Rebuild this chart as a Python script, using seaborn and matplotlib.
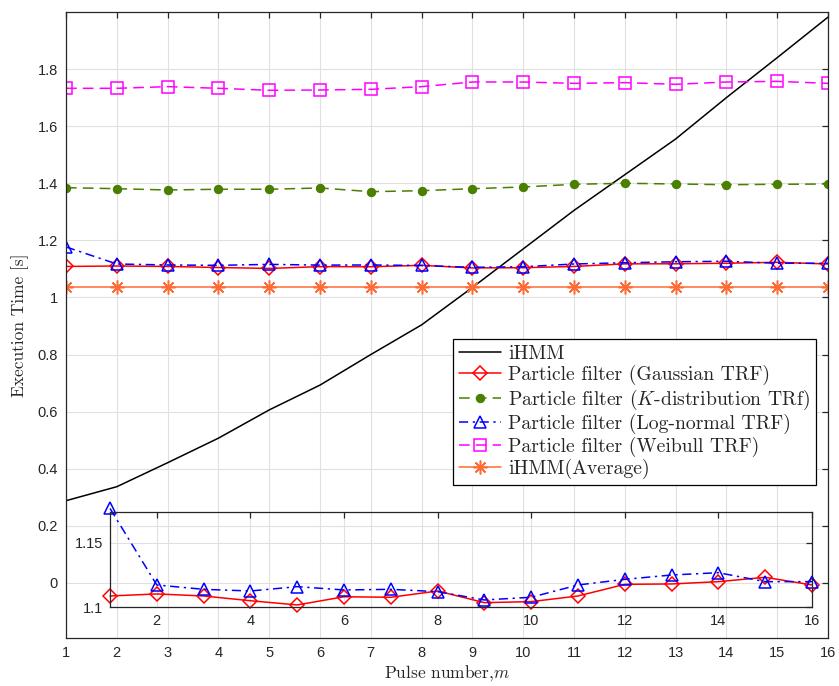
import matplotlib
matplotlib.use("Agg")
import matplotlib.pyplot as plt
import pandas as pd
import seaborn as sns

# Execution time per pulse for each tracker
pulses = list(range(1, 17))
ihmm = [0.288, 0.337, 0.421, 0.507, 0.606, 0.693, 0.800, 0.904,
        1.035, 1.170, 1.305, 1.430, 1.555, 1.700, 1.840, 1.982]
pf_gaussian = [1.1086, 1.1102, 1.1086, 1.1049, 1.1016, 1.1080, 1.1076, 1.1125,
               1.1034, 1.1042, 1.1086, 1.1177, 1.1180, 1.1198, 1.1232, 1.1172]
pf_kdist = [1.3846, 1.3810, 1.3765, 1.3790, 1.3790, 1.3835, 1.3706, 1.3740,
            1.3810, 1.3870, 1.3964, 1.4000, 1.3975, 1.3950, 1.3964, 1.3975]
pf_lognormal = [1.1770, 1.1172, 1.1138, 1.1125, 1.1159, 1.1133, 1.1138, 1.1120,
                1.1055, 1.1076, 1.1172, 1.1216, 1.1250, 1.1268, 1.1198, 1.1198]
pf_weibull = [1.7327, 1.7327, 1.7385, 1.7327, 1.7257, 1.7268, 1.7290, 1.7385,
              1.7548, 1.7548, 1.7500, 1.7525, 1.7467, 1.7548, 1.7570, 1.7500]
ihmm_average = [1.036, 1.036, 1.036, 1.036, 1.036, 1.036, 1.036, 1.036,
                1.036, 1.036, 1.036, 1.036, 1.036, 1.036, 1.036, 1.036]

labels = [
    "iHMM",
    "Particle filter (Gaussian TRF)",
    "Particle filter ($K$-distribution TRf)",
    "Particle filter (Log-normal TRF)",
    "Particle filter (Weibull TRF)",
    "iHMM(Average)",
]
main_yticks = [0, 0.2, 0.4, 0.6, 0.8, 1.0, 1.2, 1.4, 1.6, 1.8]
main_yticklabels = ["0", "0.2", "0.4", "0.6", "0.8", "1", "1.2", "1.4", "1.6", "1.8"]
inset_xticks = [2, 4, 6, 8, 10, 12, 14, 16]
inset_yticks = [1.1, 1.15]
inset_yticklabels = ["1.1", "1.15"]

df = pd.DataFrame({
    "m": pulses, "ihmm": ihmm, "gauss": pf_gaussian, "kdist": pf_kdist,
    "logn": pf_lognormal, "weib": pf_weibull, "avg": ihmm_average,
})

sns.set_theme(style="whitegrid")
plt.rcParams.update({
    "font.family": ["Liberation Sans", "DejaVu Sans"],
    "mathtext.fontset": "cm",
    "axes.unicode_minus": False,
    "axes.edgecolor": "#262626",
    "axes.linewidth": 0.9,
    "grid.color": "#E0E0E0",
    "grid.linewidth": 0.8,
    "xtick.direction": "in",
    "ytick.direction": "in",
    "xtick.color": "#262626",
    "ytick.color": "#262626",
    "xtick.labelcolor": "#262626",
    "ytick.labelcolor": "#262626",
})

SERIF = "cmr10"
fig = plt.figure(figsize=(8.39, 6.86), dpi=100)
W, H = 839, 686


def px_axes(l, t, r, b):
    return fig.add_axes([l / W, 1 - b / H, (r - l) / W, (b - t) / H])


ax = px_axes(66, 12, 828, 638)

C_RED = "#FF0000"
C_GREEN = "#4A7F00"
C_BLUE = "#0000FF"
C_MAG = "#FF00FF"
C_ORANGE = "#FF6B35"
asterisk = (8, 2, 0)

sns.lineplot(data=df, x="m", y="ihmm", ax=ax, color="black", lw=1.1, label=labels[0])
sns.lineplot(data=df, x="m", y="gauss", ax=ax, color=C_RED, lw=1.1, marker="D",
             markersize=7.5, markerfacecolor="none", markeredgecolor=C_RED,
             markeredgewidth=1.1, label=labels[1])
sns.lineplot(data=df, x="m", y="kdist", ax=ax, color=C_GREEN, lw=1.1, linestyle=(0, (7, 4)),
             marker="o", markersize=6, markerfacecolor=C_GREEN, markeredgecolor=C_GREEN,
             label=labels[2])
sns.lineplot(data=df, x="m", y="logn", ax=ax, color=C_BLUE, lw=1.1, linestyle=(0, (6, 3, 1.5, 3)),
             marker="^", markersize=9, markerfacecolor="none", markeredgecolor=C_BLUE,
             markeredgewidth=1.1, label=labels[3])
sns.lineplot(data=df, x="m", y="weib", ax=ax, color=C_MAG, lw=1.1, linestyle=(0, (7, 4)),
             marker="s", markersize=8, markerfacecolor="none", markeredgecolor=C_MAG,
             markeredgewidth=1.1, label=labels[4])
sns.lineplot(data=df, x="m", y="avg", ax=ax, color=C_ORANGE, lw=1.1, marker=asterisk,
             markersize=10, markeredgecolor=C_ORANGE, markeredgewidth=1.1, label=labels[5])

ax.set_xlim(1, 16)
ax.set_ylim(-0.193, 2.0)
ax.set_xticks(range(1, 17))
ax.set_yticks(main_yticks)
ax.set_yticklabels(main_yticklabels)
ax.tick_params(axis="both", labelsize=10.5, length=4, width=0.9,
               top=True, right=True, pad=6)
for s in ax.spines.values():
    s.set_visible(True)
    s.set_color("#262626")
ax.set_xlabel("Pulse number,$m$", fontfamily=SERIF, fontsize=12.5, labelpad=2)
ax.set_ylabel("Execution Time [s]", fontfamily=SERIF, fontsize=12.5, labelpad=6)

leg = ax.legend(loc="upper left", bbox_to_anchor=(453 / W, 1 - 339 / H),
                bbox_transform=fig.transFigure, borderaxespad=0, frameon=True,
                fancybox=False, framealpha=1, edgecolor="black",
                prop={"family": SERIF, "size": 14.2}, handlelength=2.15,
                handletextpad=0.35, labelspacing=0.12, borderpad=0.3)
leg.get_frame().set_linewidth(0.9)

# Zoomed view of the two closest particle-filter curves
inset = px_axes(110, 512, 812, 607)
inset.patch.set_alpha(0)
sns.lineplot(data=df, x="m", y="gauss", ax=inset, color=C_RED, lw=1.1, marker="D",
             markersize=7.5, markerfacecolor="none", markeredgecolor=C_RED,
             markeredgewidth=1.1, legend=False, clip_on=False)
sns.lineplot(data=df, x="m", y="logn", ax=inset, color=C_BLUE, lw=1.1,
             linestyle=(0, (6, 3, 1.5, 3)), marker="^", markersize=9,
             markerfacecolor="none", markeredgecolor=C_BLUE, markeredgewidth=1.1,
             legend=False, clip_on=False)
inset.set_xlim(1, 16)
inset.set_ylim(1.1, 1.1742)
inset.set_xticks(inset_xticks)
inset.set_yticks(inset_yticks)
inset.set_yticklabels(inset_yticklabels)
inset.set_xlabel("")
inset.set_ylabel("")
inset.tick_params(axis="both", labelsize=10.5, length=4, width=0.9,
                  top=True, right=True, pad=5)
for s in inset.spines.values():
    s.set_visible(True)
    s.set_color("#262626")

fig.savefig("out.png", dpi=100)
